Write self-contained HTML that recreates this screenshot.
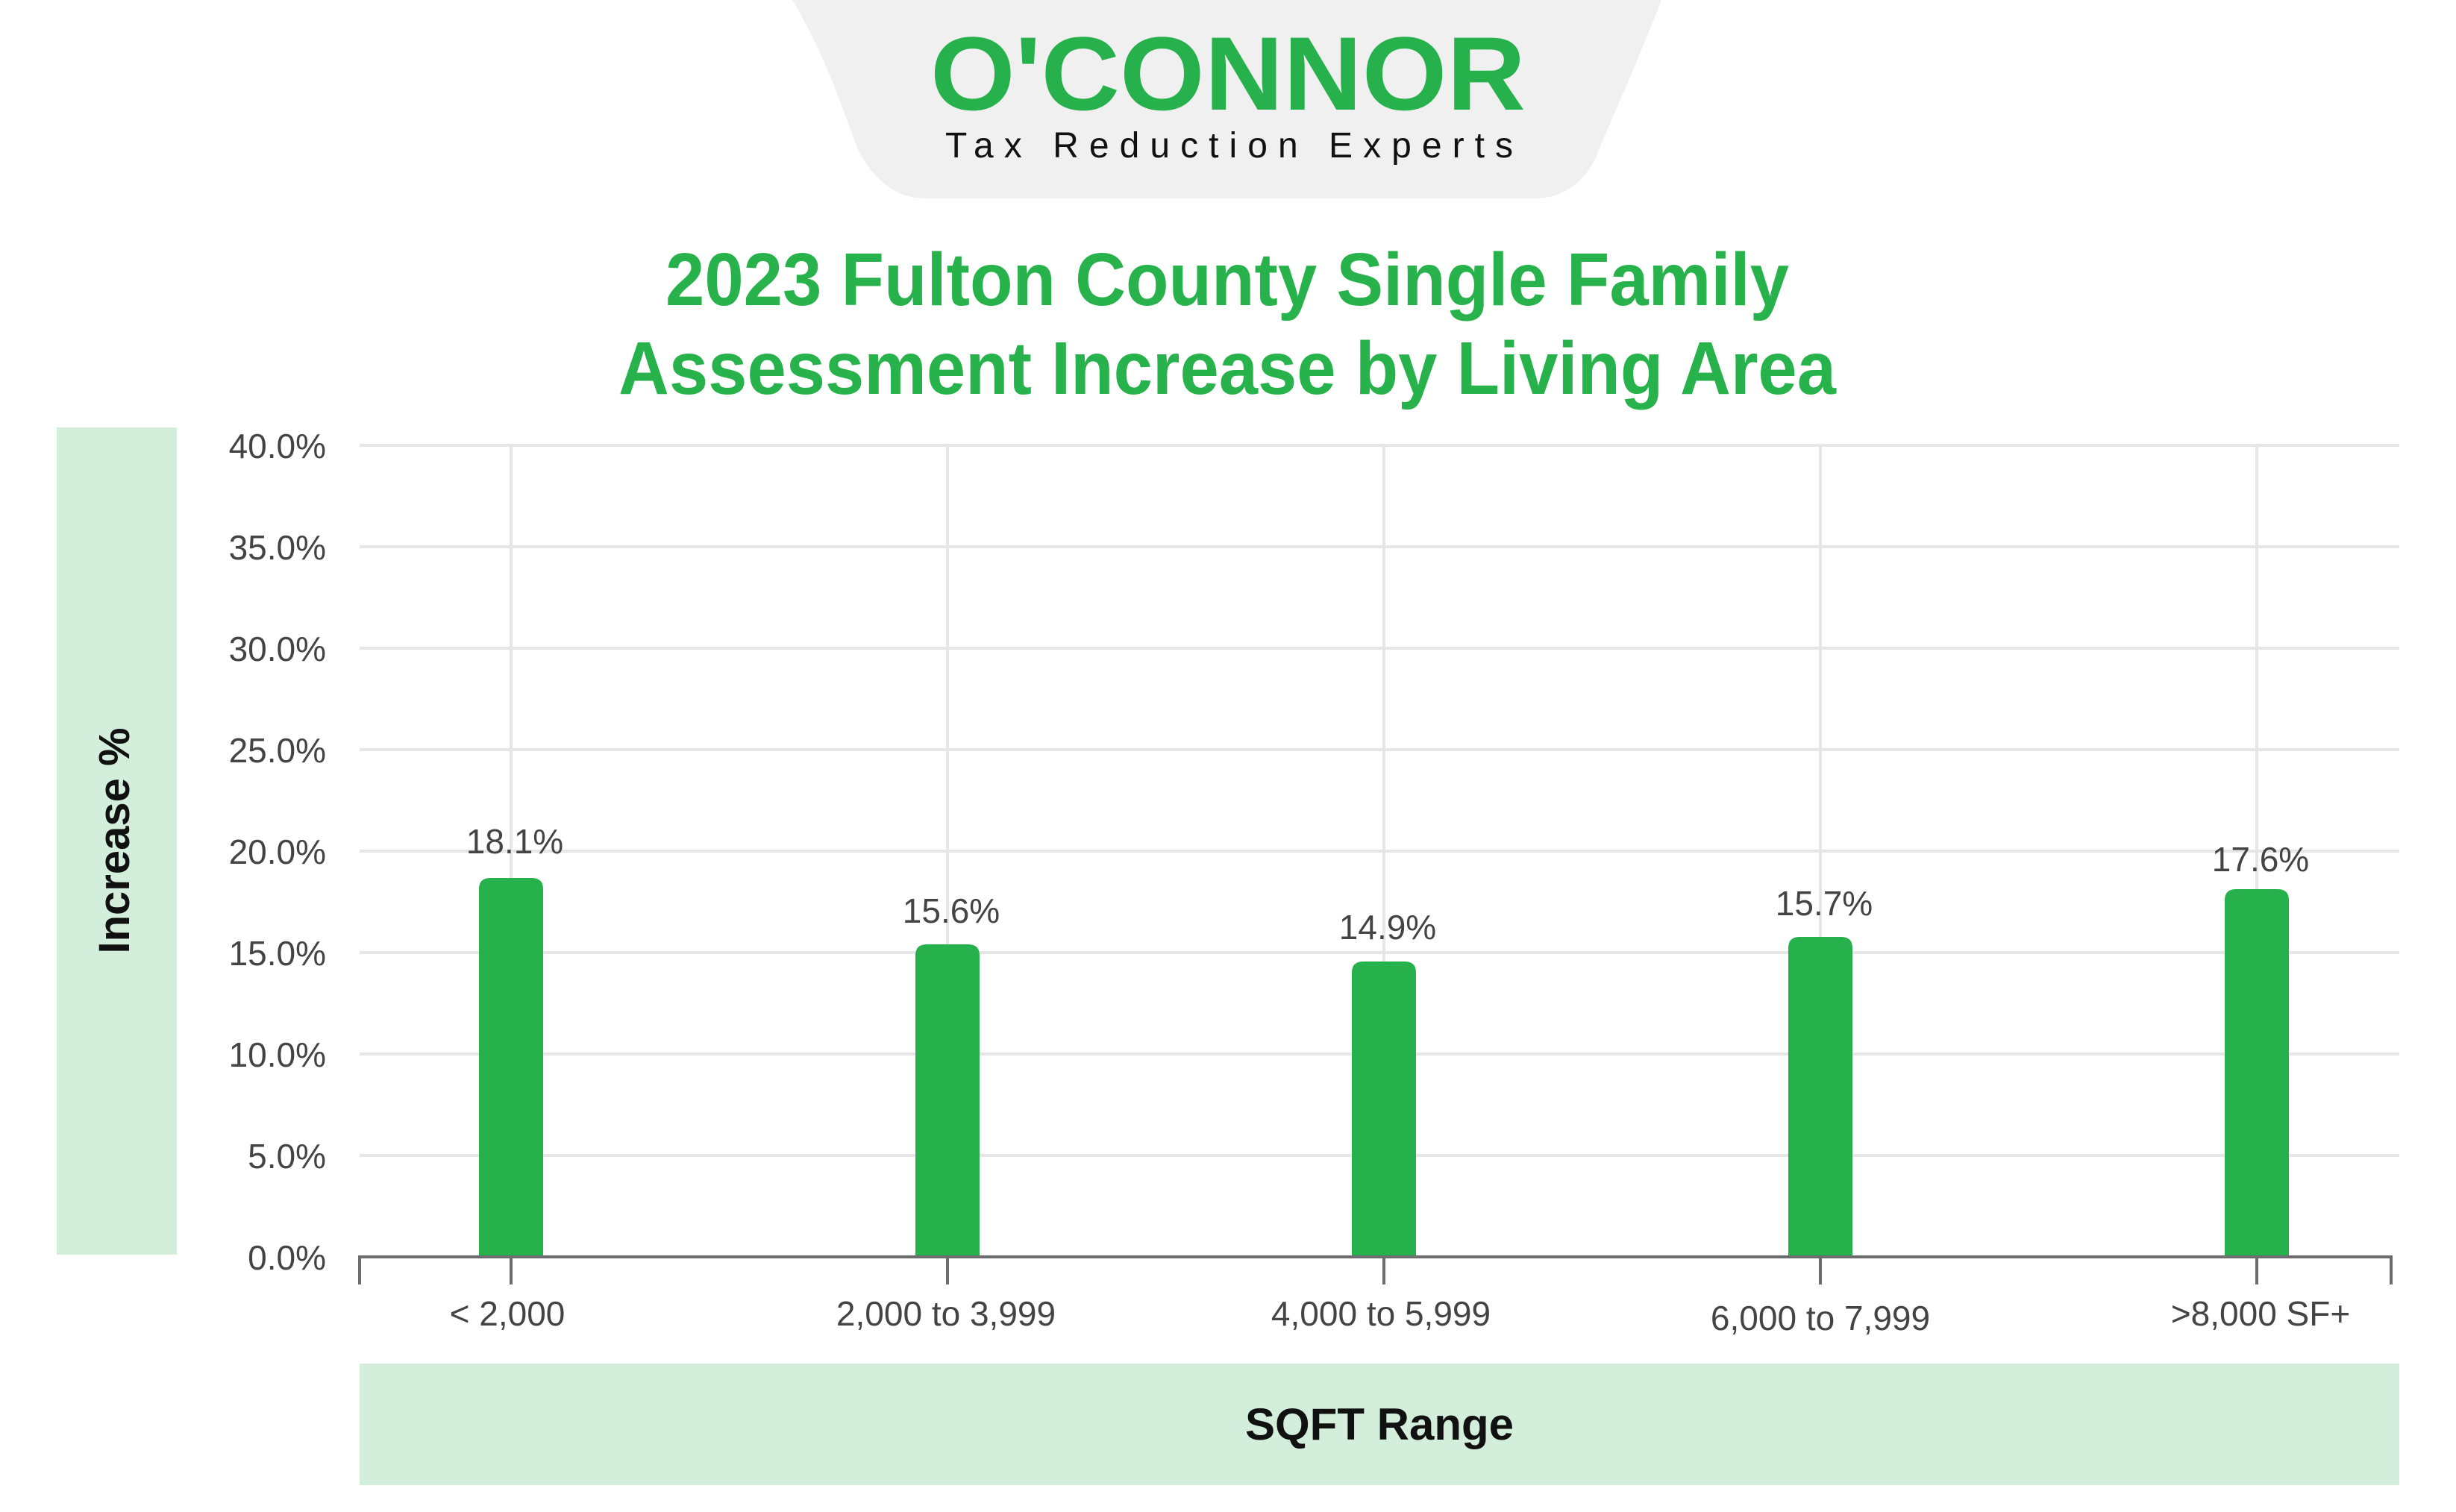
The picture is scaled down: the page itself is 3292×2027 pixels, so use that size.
<!DOCTYPE html>
<html><head><meta charset="utf-8"><style>
html,body{margin:0;padding:0;background:#fff;}
svg{display:block;}
text{font-family:"Liberation Sans",Arial,sans-serif;}
</style></head><body>
<svg width="3292" height="2027" viewBox="0 0 3292 2027" xmlns="http://www.w3.org/2000/svg">
<rect width="3292" height="2027" fill="#fff"/>
<path d="M1062 0 L2227 0 C2180 120 2150 180 2140 210 C2120 250 2090 266 2057 266 L1240 266 C1200 266 1170 240 1150 200 C1130 150 1110 80 1062 0 Z" fill="#f0f0f0"/>
<text x="1247" y="147" font-size="140" font-weight="bold" fill="#27b14c" textLength="798" lengthAdjust="spacingAndGlyphs">O'CONNOR</text>
<text x="1267" y="211" font-size="48" fill="#111" textLength="761" lengthAdjust="spacing">Tax Reduction Experts</text>
<text x="892" y="409" font-size="100" font-weight="bold" fill="#28b24b" textLength="1506" lengthAdjust="spacingAndGlyphs">2023 Fulton County Single Family</text>
<text x="829" y="528" font-size="100" font-weight="bold" fill="#28b24b" textLength="1632" lengthAdjust="spacingAndGlyphs">Assessment Increase by Living Area</text>
<rect x="76" y="573" width="161" height="1109" fill="#d4eedc"/>
<text transform="translate(173,1127) rotate(-90)" text-anchor="middle" font-size="58" font-weight="bold" fill="#111">Increase %</text>
<g stroke="#e6e6e6" stroke-width="4">
<line x1="482" y1="597" x2="3216" y2="597"/>
<line x1="482" y1="733" x2="3216" y2="733"/>
<line x1="482" y1="869" x2="3216" y2="869"/>
<line x1="482" y1="1005" x2="3216" y2="1005"/>
<line x1="482" y1="1141" x2="3216" y2="1141"/>
<line x1="482" y1="1277" x2="3216" y2="1277"/>
<line x1="482" y1="1413" x2="3216" y2="1413"/>
<line x1="482" y1="1549" x2="3216" y2="1549"/>
<line x1="685" y1="597" x2="685" y2="1685"/>
<line x1="1270" y1="597" x2="1270" y2="1685"/>
<line x1="1855" y1="597" x2="1855" y2="1685"/>
<line x1="2440" y1="597" x2="2440" y2="1685"/>
<line x1="3025" y1="597" x2="3025" y2="1685"/>
</g>
<g font-size="46" fill="#444" text-anchor="end">
<text x="437" y="614">40.0%</text>
<text x="437" y="750">35.0%</text>
<text x="437" y="886">30.0%</text>
<text x="437" y="1022">25.0%</text>
<text x="437" y="1158">20.0%</text>
<text x="437" y="1294">15.0%</text>
<text x="437" y="1430">10.0%</text>
<text x="437" y="1566">5.0%</text>
<text x="437" y="1702">0.0%</text>
</g>
<g fill="#27b14c">
<path d="M642 1685 V1192 Q642 1177 657 1177 H713 Q728 1177 728 1192 V1685 Z"/>
<path d="M1227 1685 V1281 Q1227 1266 1242 1266 H1298 Q1313 1266 1313 1281 V1685 Z"/>
<path d="M1812 1685 V1304 Q1812 1289 1827 1289 H1883 Q1898 1289 1898 1304 V1685 Z"/>
<path d="M2397 1685 V1271 Q2397 1256 2412 1256 H2468 Q2483 1256 2483 1271 V1685 Z"/>
<path d="M2982 1685 V1207 Q2982 1192 2997 1192 H3053 Q3068 1192 3068 1207 V1685 Z"/>
</g>
<g font-size="46" fill="#444" text-anchor="middle">
<text x="690" y="1144">18.1%</text>
<text x="1275" y="1237">15.6%</text>
<text x="1860" y="1259">14.9%</text>
<text x="2445" y="1227">15.7%</text>
<text x="3030" y="1168">17.6%</text>
</g>
<g stroke="#6d6d6f" stroke-width="4">
<line x1="480" y1="1685" x2="3207" y2="1685"/>
<line x1="482" y1="1685" x2="482" y2="1722"/>
<line x1="685" y1="1685" x2="685" y2="1722"/>
<line x1="1270" y1="1685" x2="1270" y2="1722"/>
<line x1="1855" y1="1685" x2="1855" y2="1722"/>
<line x1="2440" y1="1685" x2="2440" y2="1722"/>
<line x1="3025" y1="1685" x2="3025" y2="1722"/>
<line x1="3205" y1="1685" x2="3205" y2="1722"/>
</g>
<g font-size="46" fill="#444" text-anchor="middle">
<text x="680" y="1777">&lt; 2,000</text>
<text x="1268" y="1777">2,000 to 3,999</text>
<text x="1851" y="1777">4,000 to 5,999</text>
<text x="2440" y="1783">6,000 to 7,999</text>
<text x="3030" y="1777">&gt;8,000 SF+</text>
</g>
<rect x="482" y="1828" width="2734" height="163" fill="#d4eedc"/>
<text x="1849" y="1930" text-anchor="middle" font-size="60" font-weight="bold" fill="#111">SQFT Range</text>
</svg>
</body></html>
